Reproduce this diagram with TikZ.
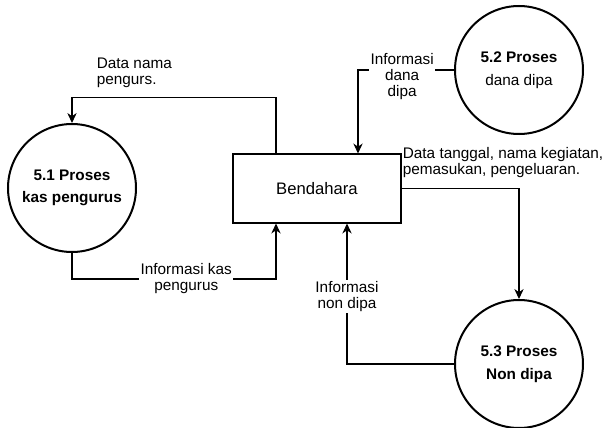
\documentclass[tikz,border=0pt]{standalone}
\usepackage{fontspec}
\setmainfont{Liberation Sans}
\usetikzlibrary{arrows.meta,calc}

\begin{document}
\begin{tikzpicture}[x=0.75pt, y=-0.75pt, ->, >={Stealth[length=7.5pt,width=7pt]}, line width=0.8pt,
  proceso/.style={circle, draw, line width=1.5pt, minimum size=96pt, inner sep=0pt, align=center, font=\bfseries\fontsize{11.5}{17}\selectfont},
  entidad/.style={rectangle, draw, minimum width=126pt, minimum height=51.75pt, font=\fontsize{12.5}{15}\selectfont},
  etiqueta/.style={fill=white, align=center, inner sep=1pt, font=\fontsize{11.5}{12}\selectfont}]
\useasboundingbox (0,0) rectangle (604,428);
% Nodos
\node [entidad] (bend) at (317,188.5) {Bendahara};
\node [proceso] (c51) at (72,188) {5.1 Proses\\kas pengurus};
\node [proceso] (c52) at (519,70) {5.2 Proses\\{\mdseries dana dipa}};
\node [proceso] (c53) at (519,364) {5.3 Proses\\Non dipa};
% Etiquetas
\node [etiqueta, anchor=west, align=left, fill=none] (l1) at (95,73) {Data nama\\pengurs.};
\node [etiqueta, anchor=west, align=left, fill=none] (l3) at (401,163) {Data tanggal, nama kegiatan,\\pemasukan, pengeluaran.};
% Flujos
\draw ($(bend.north)+(-41,0)$) -- ++(0,-56) -| (c51.north);

\draw (c51.south) -- ++(0,26) -| node [etiqueta, pos=0.28] {Informasi kas\\pengurus} ($(bend.south)+(-41,0)$);

\draw (c52.west) -| node [etiqueta, pos=0.27, yshift=-5pt] {Informasi\\dana\\dipa} ($(bend.north)+(41,0)$);

\draw (bend.east) -| (c53.north);

\draw (c53.west) -| node [etiqueta, pos=0.74] {Informasi\\non dipa} ($(bend.south)+(30,0)$);
\end{tikzpicture}
\end{document}
